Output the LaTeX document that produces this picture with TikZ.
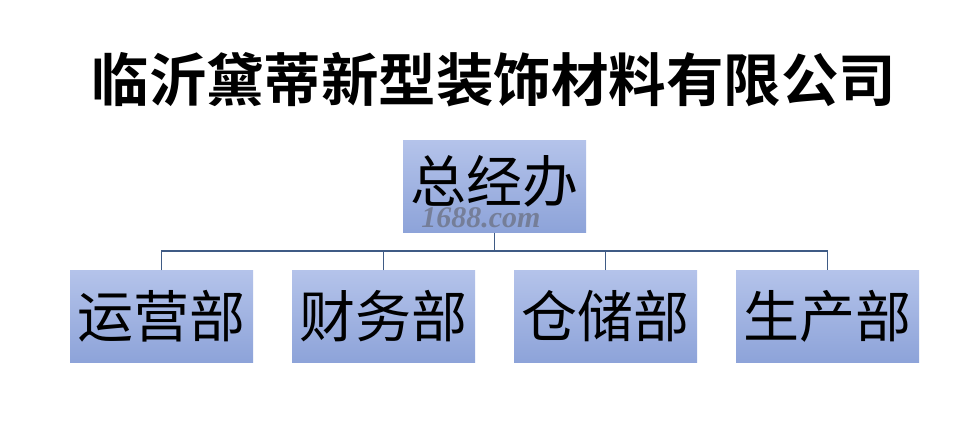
\documentclass[tikz,border=0pt]{standalone}
\usepackage{fontspec}
\newfontfamily\cjk{Noto Sans CJK SC}
\newfontfamily\cjkbold{Noto Sans CJK SC Bold}
\newfontfamily\wmfont{Liberation Serif}
\begin{document}
\begin{tikzpicture}[x=1pt,y=-1pt,
  dept/.style={minimum width=183pt,minimum height=92pt,inner sep=0pt,
    top color=boxtop,bottom color=boxbot,draw=none,
    font=\cjk\fontsize{56}{56}\selectfont,text=black},
  link/.style={draw=linkc,line width=1.8pt}]
\definecolor{boxtop}{HTML}{B4C3EA}
\definecolor{boxbot}{HTML}{8DA3D9}
\definecolor{linkc}{HTML}{3F5B85}
\definecolor{wmc}{HTML}{6E7488}
\useasboundingbox (0,0) rectangle (962,427);
\fill[white] (0,0) rectangle (962,427);
\node (title) at (494,80) {\cjkbold\fontsize{57.5}{57.5}\selectfont 临沂黛蒂新型装饰材料有限公司};
\node[dept] (gm) at (494.5,186.5) {};
\node[font=\cjk\fontsize{56}{56}\selectfont,inner sep=0pt] (gmt) at (494.5,181) {总经办};
\node[text=wmc,opacity=0.8,inner sep=0pt,font=\wmfont\bfseries\itshape\fontsize{30}{30}\selectfont] (wm) at (481,218) {1688.com};
\node[dept] (d1) at (161.5,316.5) {运营部};
\node[dept] (d2) at (383.5,316.5) {财务部};
\node[dept] (d3) at (605.5,316.5) {仓储部};
\node[dept] (d4) at (827.5,316.5) {生产部};
\coordinate (bus) at (494.5,251);
\draw[link] (gm.south) -- (bus);
\draw[link] (d1.north) |- (bus) -| (d4.north);
\draw[link] (d2.north) -- (d2.north |- bus);
\draw[link] (d3.north) -- (d3.north |- bus);
\end{tikzpicture}
\end{document}
